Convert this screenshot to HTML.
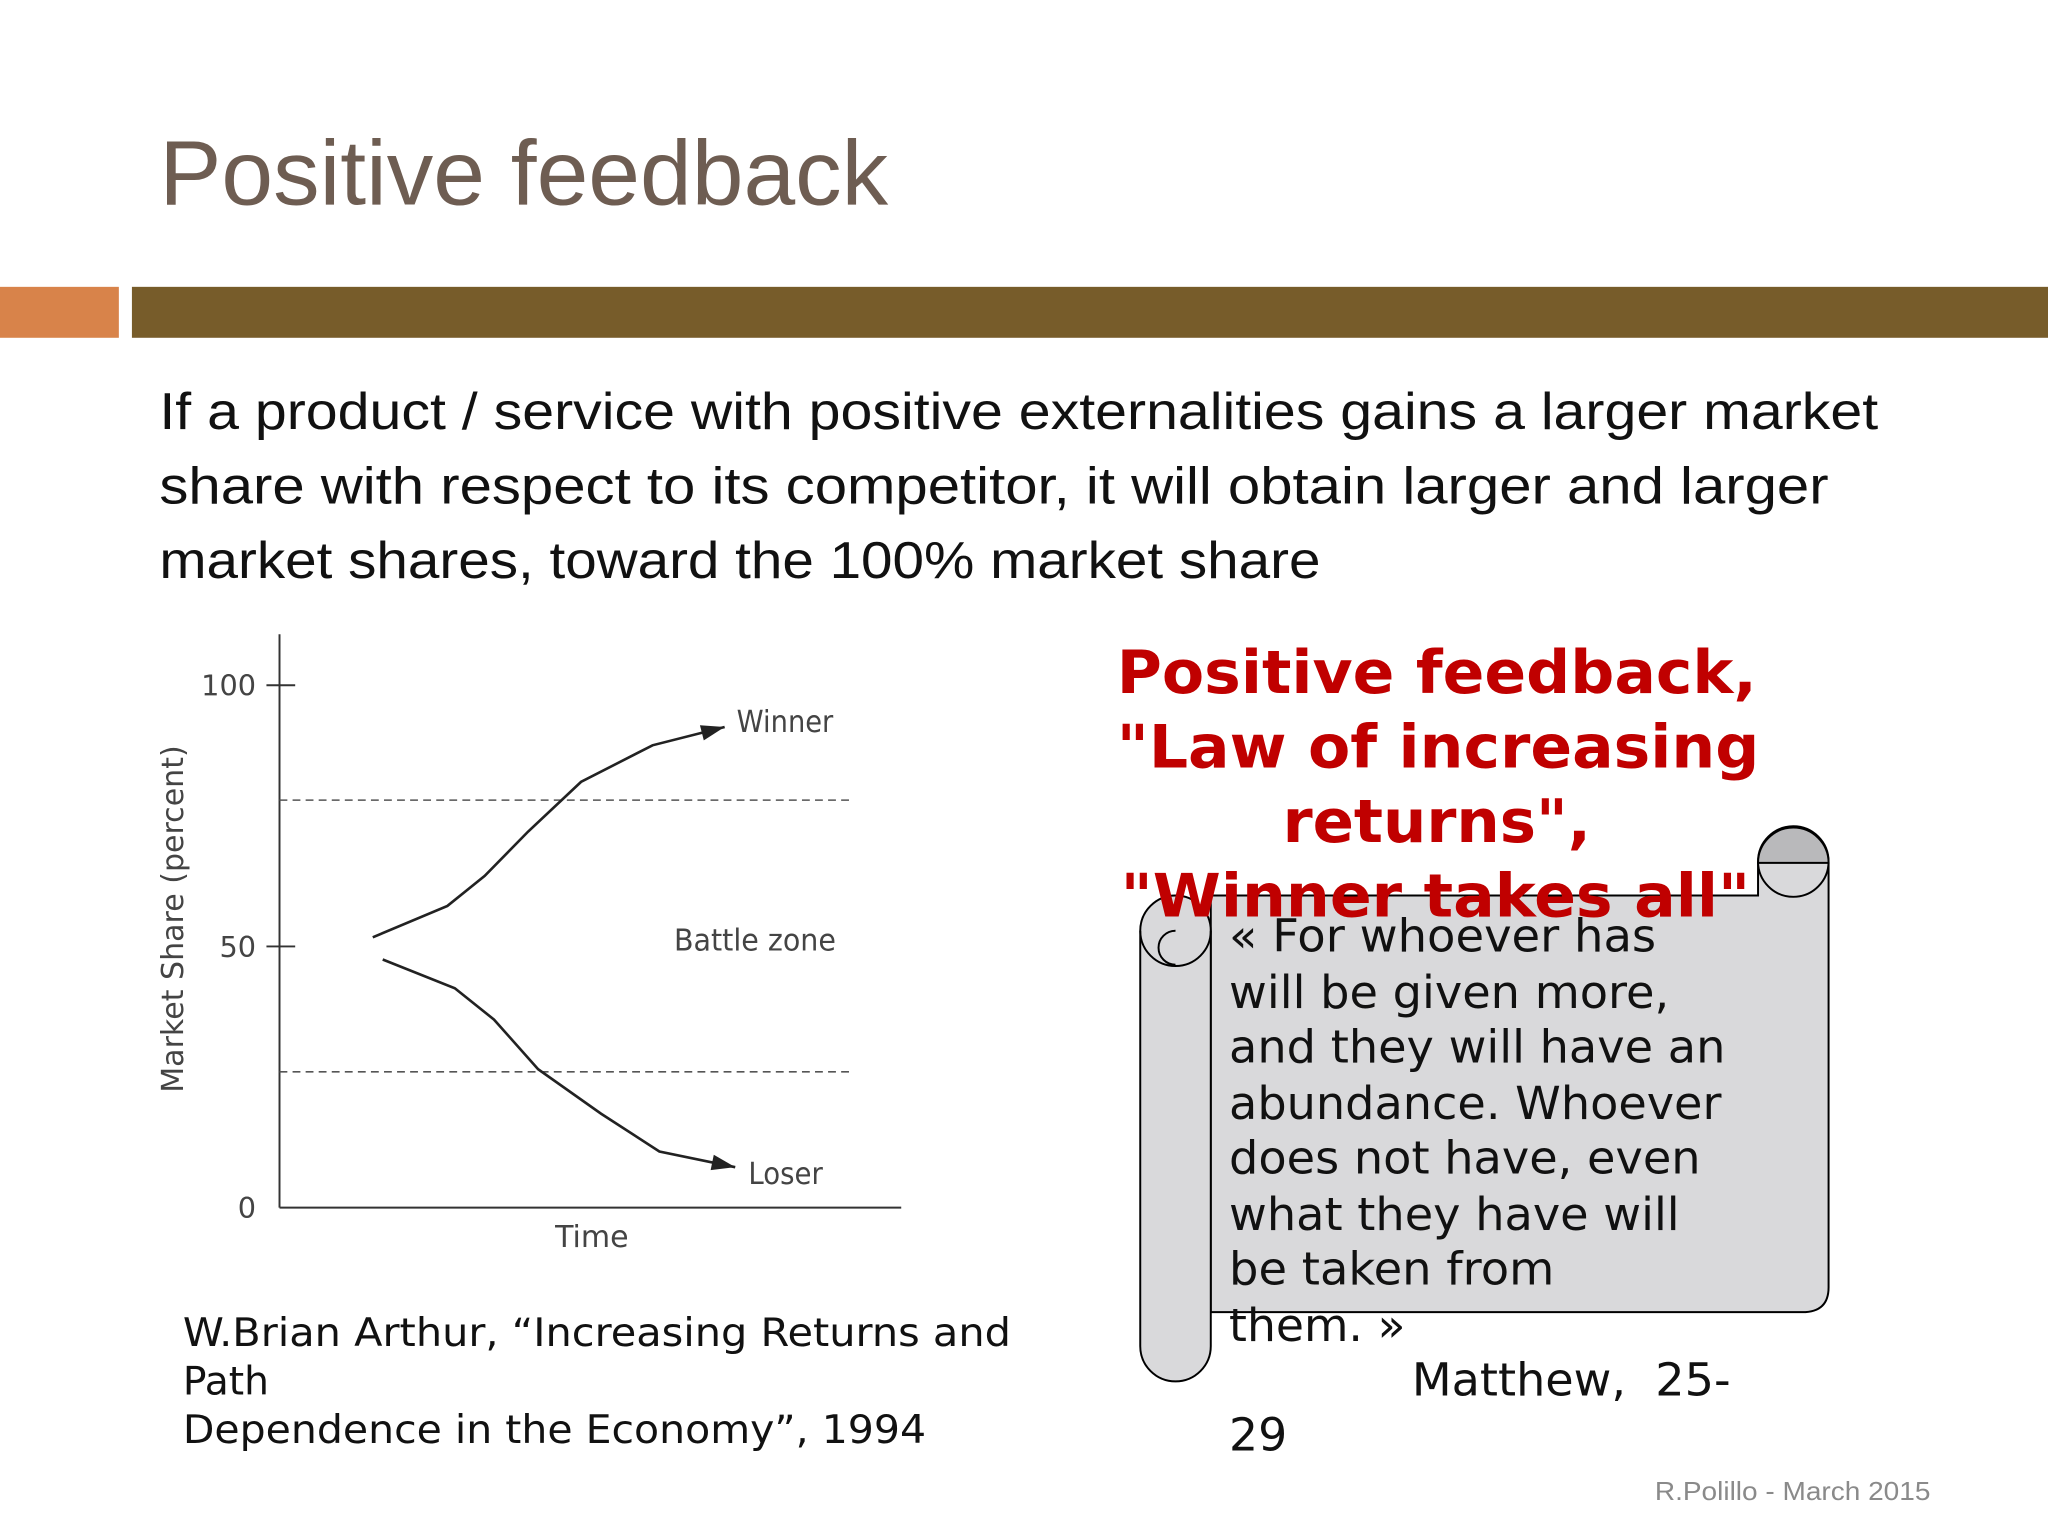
<!DOCTYPE html>
<html><head><meta charset="utf-8"><style>
html,body{margin:0;padding:0;background:#fff;}
svg{display:block;}
</style></head><body>
<svg width="2048" height="1535" viewBox="0 0 1568 1174" xmlns="http://www.w3.org/2000/svg">
<rect width="1568" height="1174" fill="#fff"/>
<text x="122" y="156" font-family="Liberation Sans, sans-serif" font-size="70" fill="#6e5d52" textLength="558" lengthAdjust="spacingAndGlyphs">Positive feedback</text>
<rect x="0" y="219" width="91" height="39" fill="#d8834a"/>
<rect x="101" y="219" width="1467" height="39" fill="#775c2a"/>
<g font-family="Liberation Sans, sans-serif" font-size="40" fill="#111">
<text x="122" y="328" textLength="1316" lengthAdjust="spacingAndGlyphs">If a product / service with positive externalities gains a larger market</text>
<text x="122" y="385" textLength="1278" lengthAdjust="spacingAndGlyphs">share with respect to its competitor, it will obtain larger and larger</text>
<text x="122" y="442" textLength="889" lengthAdjust="spacingAndGlyphs">market shares, toward the 100% market share</text>
</g>
<g id="chart" font-family="DejaVu Sans, sans-serif" fill="#444"></g>
<g font-family="DejaVu Sans, sans-serif" font-size="30" fill="#111">
<text x="140" y="1030" textLength="634" lengthAdjust="spacingAndGlyphs">W.Brian Arthur, “Increasing Returns and</text>
<text x="140" y="1067">Path</text>
<text x="140" y="1104" textLength="569" lengthAdjust="spacingAndGlyphs">Dependence in the Economy”, 1994</text>
</g>
<g stroke="#000" stroke-width="1.5" fill="#d9d9db">
<path d="M927 700 L927 1004 L1380 1004 Q1400 1004 1400 985 L1400 660 L1346 660 L1346 685 L927 685 Z"/>
<circle cx="1373" cy="659" r="27"/>
<path d="M1346 660 A27 27 0 0 1 1400 660 L1373 660 Z" fill="#b9b9bb"/>
<path d="M873 712 A27 27 0 0 1 927 712 L927 1030 A27 27 0 0 1 873 1030 Z"/>
<path d="M900 738 A13 13 0 0 1 900 712 A13 13 0 0 0 900 738 Z" fill="#aaa"/>
<path d="M873 712 A27 27 0 0 0 927 712" fill="none"/>
</g>
<g font-family="DejaVu Sans, sans-serif" font-weight="bold" font-size="46" fill="#c00000">
<text x="855" y="530" textLength="490" lengthAdjust="spacingAndGlyphs">Positive feedback,</text>
<text x="855" y="587" textLength="492" lengthAdjust="spacingAndGlyphs">"Law of increasing</text>
<text x="982" y="644" textLength="236" lengthAdjust="spacingAndGlyphs">returns",</text>
<text x="858" y="701" textLength="482" lengthAdjust="spacingAndGlyphs">"Winner takes all"</text>
</g>
<g font-family="DejaVu Sans, sans-serif" font-size="35" fill="#111" lengthAdjust="spacingAndGlyphs">
<text x="941" y="728" textLength="327" lengthAdjust="spacingAndGlyphs">« For whoever has</text>
<text x="941" y="771" textLength="337" lengthAdjust="spacingAndGlyphs">will be given more,</text>
<text x="941" y="813" textLength="380" lengthAdjust="spacingAndGlyphs">and they will have an</text>
<text x="941" y="856" textLength="377" lengthAdjust="spacingAndGlyphs">abundance. Whoever</text>
<text x="941" y="898" textLength="361" lengthAdjust="spacingAndGlyphs">does not have, even</text>
<text x="941" y="941" textLength="345" lengthAdjust="spacingAndGlyphs">what they have will</text>
<text x="941" y="983" textLength="249" lengthAdjust="spacingAndGlyphs">be taken from</text>
<text x="941" y="1026" textLength="135" lengthAdjust="spacingAndGlyphs">them. »</text>
<text x="1081" y="1068" textLength="244" lengthAdjust="spacingAndGlyphs">Matthew,&#160;&#160;25-</text>
<text x="941" y="1110">29</text>
</g>
<text x="1267" y="1148" font-family="Liberation Sans, sans-serif" font-size="20" fill="#8a8a8a" textLength="211" lengthAdjust="spacingAndGlyphs">R.Polillo - March 2015</text>
</svg>
<script>
const yTicks=[0,50,100];
const winnerT=[15,27,33,40,48.5,60,71.6];
const winnerV=[51.75,57.75,63.5,72,81.5,88.5,92];
const loserT=[16.6,28.2,34.5,41.6,51.7,61.1,73.3];
const loserV=[47.5,42,36,26.5,18,10.75,7.75];
const zoneBounds=[26,78];
const NS="http://www.w3.org/2000/svg";
const g=document.getElementById('chart');
const X0=214,X1=690,Y0=924,Y100=524;
const sx=t=>X0+(X1-X0)*t/100;
const sy=v=>Y0-(Y0-Y100)*v/100;
function el(tag,attrs){const e=document.createElementNS(NS,tag);for(const k in attrs)e.setAttribute(k,attrs[k]);g.appendChild(e);return e;}
let a=el('line',{x1:X0,y1:485,x2:X0,y2:Y0,stroke:'#333','stroke-width':1.5});


a=el('line',{x1:X0,y1:Y0,x2:X1,y2:Y0,stroke:'#333','stroke-width':1.5});


yTicks.forEach(v=>{
 if(v>0){const tk=el('line',{x1:X0-10,y1:sy(v),x2:X0+12,y2:sy(v),stroke:'#333','stroke-width':1.5});
 
 }
 const t=el('text',{x:X0-18,y:sy(v)+8,'font-size':22,'text-anchor':'end'});t.textContent=v;
 
 
});
zoneBounds.forEach(v=>{const d=el('line',{x1:X0,y1:sy(v),x2:650,y2:sy(v),stroke:'#555','stroke-width':1.2,'stroke-dasharray':'6,4'});
 
 });
function series(T,V,name){
 const pts=T.map((t,i)=>sx(t)+','+sy(V[i])).join(' ');
 const p=el('polyline',{points:pts,fill:'none',stroke:'#222','stroke-width':2});
 
 
 const n=T.length,x2=sx(T[n-1]),y2=sy(V[n-1]),x1=sx(T[n-2]),y1=sy(V[n-2]);
 const ang=Math.atan2(y2-y1,x2-x1),L=18,W=6;
 const bx=x2-L*Math.cos(ang),by=y2-L*Math.sin(ang);
 const h=el('polygon',{points:`${x2},${y2} ${bx+W*Math.sin(ang)},${by-W*Math.cos(ang)} ${bx-W*Math.sin(ang)},${by+W*Math.cos(ang)}`,fill:'#222'});
 
 
}
series(winnerT,winnerV,'winner');
series(loserT,loserV,'loser');
function label(txt,x,y,name,extra){const t=el('text',Object.assign({x:x,y:y,'font-size':23},extra||{}));t.textContent=txt;
 
 return t;}
label('Winner',564,560,'winner-label',{textLength:74,lengthAdjust:'spacingAndGlyphs'});
label('Battle zone',516,727,'battle-zone-label',{textLength:124,lengthAdjust:'spacingAndGlyphs'});
label('Loser',573,906,'loser-label',{textLength:57,lengthAdjust:'spacingAndGlyphs'});
label('Time',425,954,'x-axis-title');
label('Market Share (percent)',140,703,'y-axis-title',{'text-anchor':'middle',transform:'rotate(-90 140 703)'});
</script>
</body></html>
